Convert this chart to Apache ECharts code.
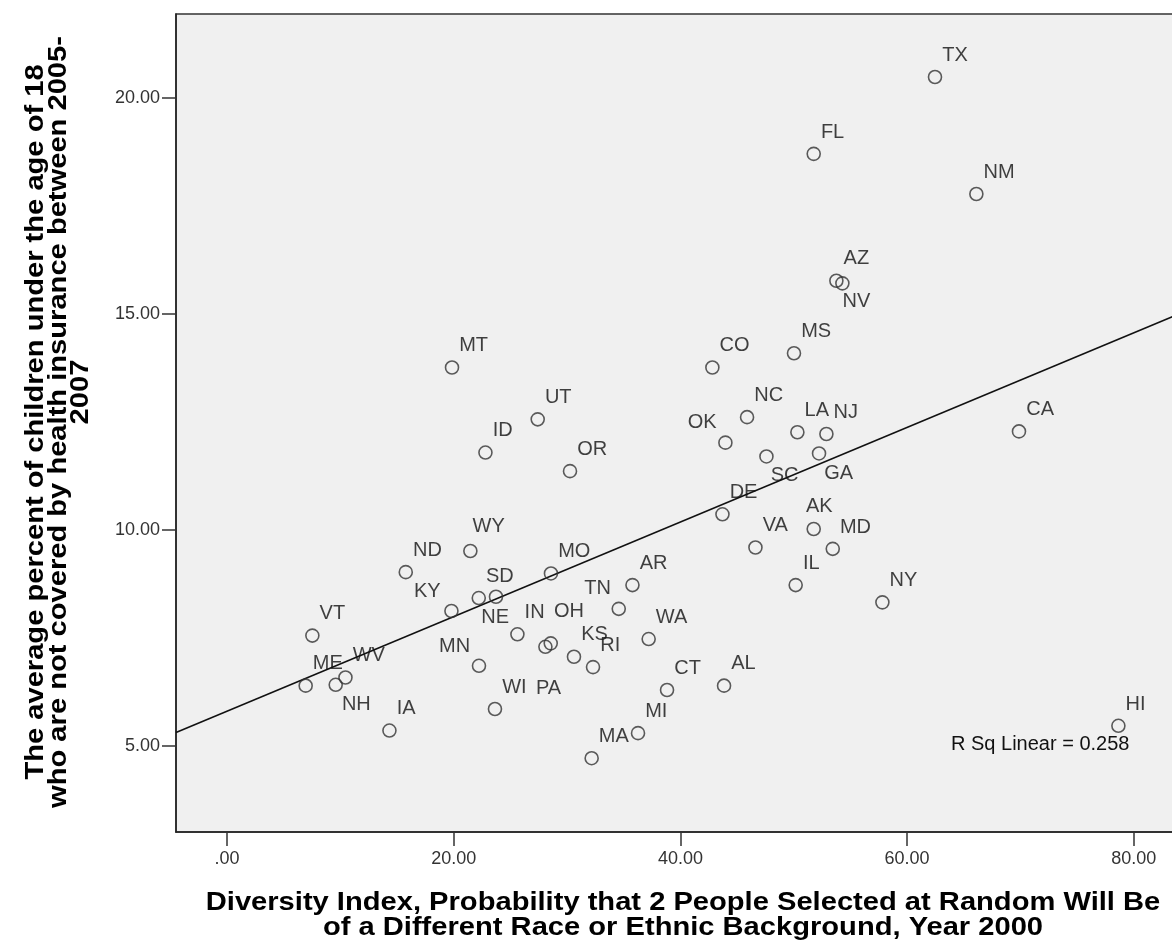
<!DOCTYPE html>
<html>
<head>
<meta charset="utf-8">
<title>Diversity vs uninsured children</title>
<script type="text/javascript" src="https://cdn.jsdelivr.net/npm/echarts@6.0.0/dist/echarts.min.js"></script>
<style type="text/css">
html, body { margin: 0; padding: 0; background: #fff; }
#main { width: 1172px; height: 951px; }
</style>
</head>
<body>
<div id="main"></div>
<script type="text/javascript">

// state codes, one point each
var states = ['TX','FL','NM','AZ','NV','MS','CO','NC','OK','LA',
              'NJ','SC','GA','CA','DE','VA','AK','MD','IL','NY',
              'CT','AL','HI','MT','UT','ID','OR','WY','ND','MO',
              'AR','TN','KY','SD','NE','IN','OH','PA','KS','RI',
              'WA','VT','ME','WV','NH','IA','MN','WI','MA','MI'];

// diversity index, year 2000
var diversity = [62.46, 51.76, 66.11, 53.76, 54.29, 50.02, 42.82, 45.88, 43.97, 50.32,
                 52.88, 47.59, 52.23, 69.87, 43.71, 46.62, 51.76, 53.44, 50.17, 57.82,
                 38.82, 43.85, 78.64, 19.85, 27.41, 22.80, 30.26, 21.47, 15.77, 28.58,
                 35.77, 34.56, 19.80, 22.21, 23.73, 25.62, 28.56, 28.09, 30.61, 32.29,
                 37.20, 7.53, 6.94, 10.45, 9.59, 14.33, 22.23, 23.64, 32.17, 36.26];

// average percent of children without health insurance 2005-2007
var uninsured = [20.49, 18.71, 17.78, 15.77, 15.71, 14.09, 13.76, 12.61, 12.02, 12.26,
                 12.22, 11.70, 11.77, 12.28, 10.36, 9.59, 10.02, 9.56, 8.72, 8.32,
                 6.29, 6.39, 5.46, 13.76, 12.56, 11.79, 11.36, 9.51, 9.02, 8.99,
                 8.72, 8.17, 8.12, 8.42, 8.45, 7.58, 7.37, 7.29, 7.06, 6.82,
                 7.47, 7.55, 6.39, 6.58, 6.41, 5.35, 6.85, 5.85, 4.71, 5.29];

var xTicks = [0, 20, 40, 60, 80];
var yTicks = [5, 10, 15, 20];
var rSquared = 0.258;

var xTitle = 'Diversity Index, Probability that 2 People Selected at Random Will Be\nof a Different Race or Ethnic Background, Year 2000';
var yTitle = 'The average percent of children under the age of 18\nwho are not covered by health insurance between 2005-';
var yTitleLast = '2007';

// label placement: [dx, dy, align] from circle centre (default: upper right)
var labelPlace = {
    NV: [1, 19, 'left'],
    OK: [-8, -19, 'right'],
    SC: [5, 20, 'left'],
    GA: [6, 21, 'left'],
    AK: [-7, -22, 'left'],
    TN: [-7, -20, 'right'],
    KY: [-10, -19, 'right'],
    NE: [0, 22, 'center'],
    OH: [4, -31, 'left'],
    PA: [4, 42, 'center'],
    MN: [-8, -19, 'right'],
    NH: [7, 20, 'left'],
    WY: [3, -24, 'left']
};

var X_MIN = -4.5, X_MAX = 84.5;
var Y_MIN = 3, Y_MAX = 21.95;
var SYM = 13;

var chart = echarts.init(document.getElementById('main'), null, {renderer: 'canvas'});

function buildPoints()
{
    var pts = [];
    for (var i = 0; i < states.length; i++)
    {
        var p = labelPlace[states[i]] || [8, -21, 'left'];
        pts.push({
            name: states[i],
            value: [diversity[i], uninsured[i]],
            label: {
                position: [p[0] + SYM / 2, p[1] + SYM / 2],
                align: p[2],
                verticalAlign: 'middle'
            }
        });
    }
    return pts;
}

// least squares fit line
function fitLine()
{
    var n = diversity.length, sx = 0, sy = 0, sxx = 0, sxy = 0;
    for (var i = 0; i < n; i++)
    {
        sx += diversity[i]; sy += uninsured[i];
        sxx += diversity[i] * diversity[i];
        sxy += diversity[i] * uninsured[i];
    }
    var b = (n * sxy - sx * sy) / (n * sxx - sx * sx);
    var a = (sy - b * sx) / n;
    return [[X_MIN, a + b * X_MIN], [X_MAX, a + b * X_MAX]];
}

var labelFont = 'Liberation Sans, Arial, sans-serif';

var option = {
    animation: false,
    backgroundColor: '#fff',
    grid: {
        show: true,
        left: 176,
        top: 14,
        width: (X_MAX - X_MIN) * 11.335,
        height: 818,
        outerBoundsMode: 'none',
        containLabel: false,
        backgroundColor: '#f0f0f0',
        borderColor: '#333',
        borderWidth: 1.5
    },
    xAxis: {
        type: 'value',
        min: X_MIN,
        max: X_MAX,
        splitLine: {show: false},
        axisLine: {show: true, onZero: false, lineStyle: {color: '#222', width: 1.5}},
        axisTick: {show: true, customValues: xTicks, length: 14, lineStyle: {color: '#333', width: 1.5}},
        axisLabel: {
            customValues: xTicks,
            margin: 18,
            fontSize: 18,
            fontFamily: labelFont,
            color: '#333',
            formatter: function (v) { return v === 0 ? '.00' : v.toFixed(2); }
        }
    },
    yAxis: {
        type: 'value',
        min: Y_MIN,
        max: Y_MAX,
        splitLine: {show: false},
        axisLine: {show: true, onZero: false, lineStyle: {color: '#222', width: 1.5}},
        axisTick: {show: true, customValues: yTicks, length: 14, lineStyle: {color: '#333', width: 1.5}},
        axisLabel: {
            customValues: yTicks,
            margin: 16,
            fontSize: 18,
            fontFamily: labelFont,
            color: '#333',
            formatter: function (v) { return v.toFixed(2); }
        }
    },
    series: [
        {
            type: 'line',
            data: fitLine(),
            symbol: 'none',
            silent: true,
            z: 1,
            lineStyle: {color: '#111', width: 1.5}
        },
        {
            type: 'scatter',
            data: buildPoints(),
            symbol: 'circle',
            symbolSize: SYM,
            z: 2,
            itemStyle: {color: 'rgba(0,0,0,0)', borderColor: '#333', borderWidth: 1.6},
            label: {
                show: true,
                formatter: '{b}',
                fontSize: 20,
                fontFamily: labelFont,
                color: '#111'
            }
        }
    ],
    graphic: [
        {
            type: 'text',
            left: 951,
            top: 734,
            style: {
                text: 'R Sq Linear = ' + rSquared.toFixed(3),
                font: '20px ' + labelFont,
                fill: '#111'
            }
        },
        {
            type: 'text',
            x: 683,
            y: 915,
            scaleX: 1.12,
            style: {
                text: xTitle,
                font: 'bold 26px ' + labelFont,
                fill: '#000',
                align: 'center',
                verticalAlign: 'middle',
                lineHeight: 25
            }
        },
        {
            // first two lines of the rotated y title
            type: 'text',
            x: 47,
            y: 422,
            rotation: Math.PI / 2,
            scaleX: 1.12,
            style: {
                text: yTitle,
                font: 'bold 26px ' + labelFont,
                fill: '#000',
                align: 'center',
                verticalAlign: 'middle',
                lineHeight: 23
            }
        },
        {
            type: 'text',
            x: 81,
            y: 392,
            rotation: Math.PI / 2,
            scaleX: 1.12,
            style: {
                text: yTitleLast,
                font: 'bold 26px ' + labelFont,
                fill: '#000',
                align: 'center',
                verticalAlign: 'middle'
            }
        }
    ]
};

chart.setOption(option);
</script>
</body>
</html>
